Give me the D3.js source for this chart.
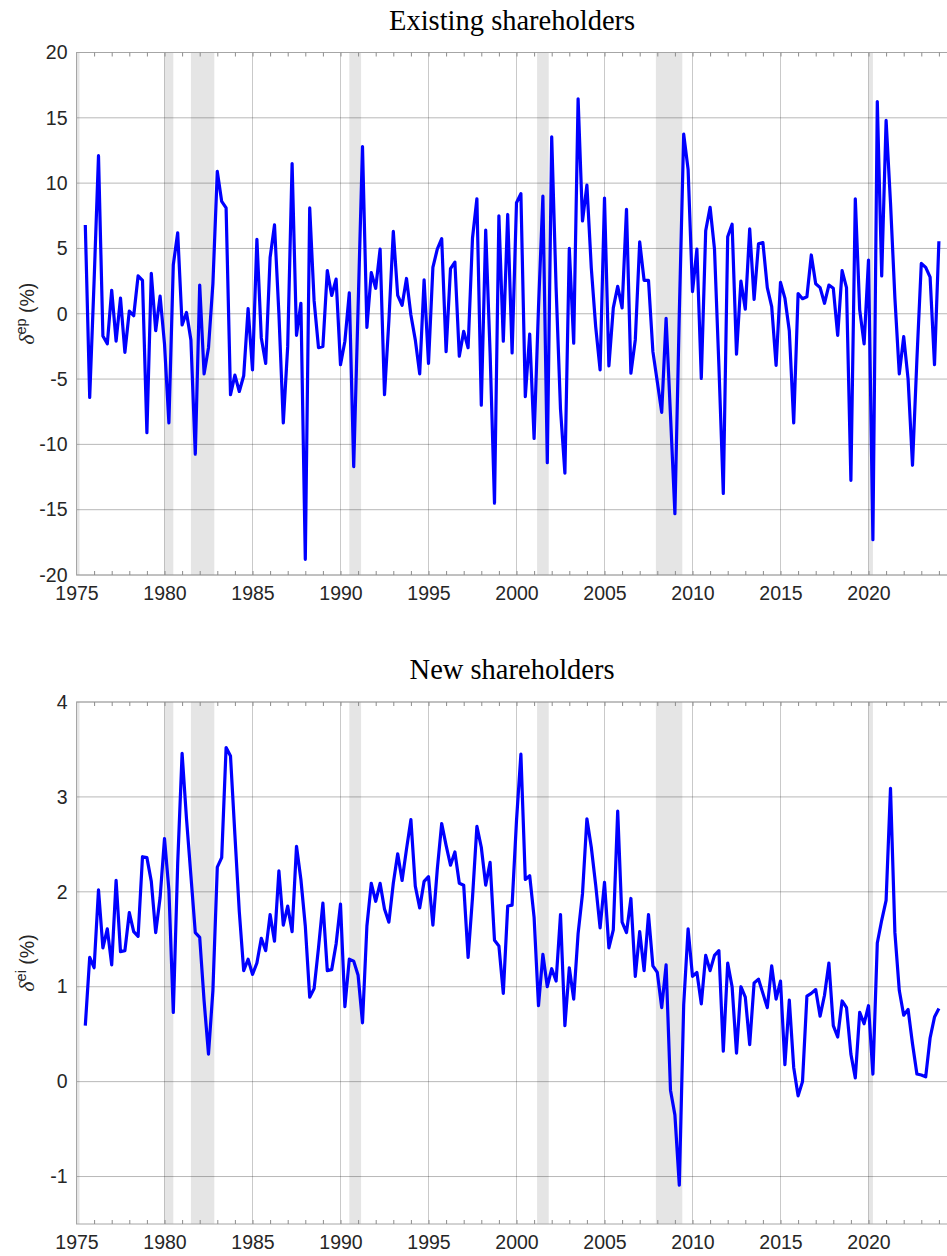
<!DOCTYPE html>
<html>
<head>
<meta charset="utf-8">
<script src="https://cdn.jsdelivr.net/npm/d3@7"></script>
<style>
  body { margin: 0; background: #fff; }
  svg { display: block; }
</style>
</head>
<body>
<svg id="chart" width="947" height="1256"></svg>
<script>
// quarterly observations, first one is 1975 Q3
const firstQuarter = 1975.5;

// delta^ep (%), existing shareholders
const existingShareholders = [
  6.8, -6.4, 2.5, 12.1, -1.7, -2.3, 1.8, -2.1, 1.2, -2.95,
  0.2, -0.15, 2.9, 2.55, -9.1, 3.1, -1.3, 1.35, -2.3, -8.35,
  3.75, 6.2, -0.85, 0.1, -2.0, -10.75, 2.2, -4.6, -2.6, 2.3,
  10.9, 8.6, 8.1, -6.2, -4.7, -5.95, -4.75, 0.4, -4.3, 5.7,
  -1.85, -3.8, 4.3, 6.8, 0.0, -8.35, -2.5, 11.5, -1.65, 0.8,
  -18.8, 8.1, 1.0, -2.6, -2.5, 3.3, 1.4, 2.65, -3.9, -2.1,
  1.6, -11.7, 0.5, 12.8, -1.05, 3.15, 1.95, 4.95, -6.2, -0.5,
  6.3, 1.4, 0.65, 2.7, -0.1, -2.0, -4.6, 2.6, -3.8, 3.55,
  4.95, 5.75, -2.9, 3.45, 3.95, -3.25, -1.35, -2.6, 5.8, 8.8,
  -7.0, 6.4, -3.0, -14.5, 7.5, -2.1, 7.6, -3.0, 8.5, 9.2,
  -6.35, -1.55, -9.55, 0.5, 9.0, -11.4, 13.55, 2.0, -7.3, -12.2,
  5.0, -2.25, 16.45, 7.1, 9.85, 3.5, -1.0, -4.3, 8.85, -4.0,
  0.45, 2.1, 0.45, 8.0, -4.55, -2.0, 5.5, 2.55, 2.55, -2.9,
  -5.2, -7.55, -0.35, -7.8, -15.3, 0.0, 13.75, 11.05, 1.7, 4.95,
  -4.95, 6.35, 8.15, 4.95, -4.0, -13.75, 5.9, 6.85, -3.1, 2.5,
  0.35, 6.5, 1.1, 5.35, 5.45, 2.0, 0.55, -3.95, 2.4, 1.2,
  -1.3, -8.35, 1.55, 1.15, 1.3, 4.5, 2.3, 2.0, 0.8, 2.2,
  1.95, -1.65, 3.3, 2.0, -12.75, 8.8, 0.3, -2.3, 4.1, -17.3,
  16.25, 2.9, 14.8, 8.5, 1.2, -4.6, -1.75, -5.0, -11.6, -3.5,
  3.85, 3.55, 2.8, -3.9, 5.55
];

// delta^ei (%), new shareholders
const newShareholders = [
  0.59, 1.31, 1.2, 2.02, 1.41, 1.61, 1.23, 2.12, 1.37, 1.38,
  1.78, 1.58, 1.53, 2.37, 2.36, 2.11, 1.57, 1.94, 2.56, 2.02,
  0.73, 2.3, 3.46, 2.77, 2.17, 1.57, 1.52, 0.85, 0.29, 0.96,
  2.26, 2.36, 3.52, 3.43, 2.6, 1.79, 1.17, 1.29, 1.13, 1.25,
  1.51, 1.38, 1.76, 1.48, 2.22, 1.65, 1.85, 1.58, 2.48, 2.13,
  1.64, 0.89, 0.98, 1.41, 1.88, 1.17, 1.18, 1.45, 1.87, 0.79,
  1.29, 1.27, 1.12, 0.62, 1.64, 2.09, 1.9, 2.09, 1.82, 1.68,
  2.09, 2.4, 2.12, 2.45, 2.76, 2.06, 1.83, 2.11, 2.16, 1.65,
  2.24, 2.72, 2.49, 2.28, 2.42, 2.09, 2.07, 1.31, 1.94, 2.69,
  2.47, 2.07, 2.31, 1.49, 1.43, 0.93, 1.85, 1.86, 2.75, 3.45,
  2.13, 2.17, 1.73, 0.8, 1.34, 1.0, 1.19, 1.06, 1.76, 0.59,
  1.2, 0.87, 1.56, 1.98, 2.77, 2.47, 2.07, 1.62, 2.1, 1.41,
  1.6, 2.85, 1.68, 1.57, 1.93, 1.11, 1.58, 1.17, 1.76, 1.22,
  1.15, 0.78, 1.23, -0.09, -0.35, -1.09, 0.81, 1.61, 1.11, 1.15,
  0.82, 1.33, 1.17, 1.33, 1.38, 0.32, 1.25, 1.0, 0.3, 1.0,
  0.89, 0.39, 1.04, 1.08, 0.93, 0.78, 1.22, 0.87, 1.06, 0.18,
  0.86, 0.15, -0.15, 0.0, 0.9, 0.93, 0.97, 0.69, 0.91, 1.25,
  0.59, 0.47, 0.85, 0.78, 0.29, 0.04, 0.73, 0.61, 0.8, 0.08,
  1.46, 1.7, 1.91, 3.09, 1.57, 0.96, 0.7, 0.76, 0.4, 0.08,
  0.07, 0.05, 0.46, 0.68, 0.77
];

// NBER recessions (start, end)
const recessions = [
  [1975.0, 1975.17], [1980.0, 1980.5], [1981.5, 1982.83], [1990.5, 1991.17],
  [2001.17, 2001.83], [2007.92, 2009.42], [2020.0, 2020.25]
];

const xTickLabels = [1975, 1980, 1985, 1990, 1995, 2000, 2005, 2010, 2015, 2020];
const yTicksExisting = [-20, -15, -10, -5, 0, 5, 10, 15, 20];
const yTicksNew = [-1, 0, 1, 2, 3, 4];

const svg = d3.select('#chart');

const x = d3.scaleLinear()
  .domain([1975, 2024.5])
  .range([76.5, 947.7]);

const yearTicks = d3.range(1976, 2025);
const date = (_, i) => firstQuarter + i * 0.25;

function drawPanel(opts) {
  const g = svg.append('g');
  const y = d3.scaleLinear()
    .domain(opts.domain)
    .range([opts.bottom, opts.top]);

  // recession shading
  g.selectAll('rect.rec')
    .data(recessions)
    .join('rect')
    .attr('x', d => x(d[0]))
    .attr('width', d => x(d[1]) - x(d[0]))
    .attr('y', opts.top)
    .attr('height', opts.bottom - opts.top)
    .attr('fill', '#e5e5e5');

  // grid
  g.append('g')
    .selectAll('line')
    .data(opts.ticks)
    .join('line')
    .attr('x1', x.range()[0]).attr('x2', x.range()[1])
    .attr('y1', d => y(d)).attr('y2', d => y(d))
    .attr('stroke', '#262626').attr('stroke-opacity', 0.33)
    .attr('stroke-width', 1);

  g.append('g')
    .selectAll('line')
    .data(xTickLabels)
    .join('line')
    .attr('x1', d => x(d)).attr('x2', d => x(d))
    .attr('y1', opts.top).attr('y2', opts.bottom)
    .attr('stroke', '#262626').attr('stroke-opacity', 0.25)
    .attr('stroke-width', 1);

  // box
  g.append('rect')
    .attr('x', x.range()[0]).attr('y', opts.top)
    .attr('width', x.range()[1] - x.range()[0])
    .attr('height', opts.bottom - opts.top)
    .attr('fill', 'none')
    .attr('stroke', '#a6a6a6');

  // yearly ticks, inward, top and bottom
  const axisB = d3.axisBottom(x).tickValues(yearTicks).tickSizeInner(-4).tickSizeOuter(0).tickFormat('');
  const axisT = d3.axisTop(x).tickValues(yearTicks).tickSizeInner(-4).tickSizeOuter(0).tickFormat('');
  [g.append('g').attr('transform', `translate(0,${opts.bottom})`).call(axisB),
   g.append('g').attr('transform', `translate(0,${opts.top})`).call(axisT)]
    .forEach(a => {
      a.select('.domain').remove();
      a.selectAll('line').attr('stroke', '#8c8c8c');
    });

  // x labels
  const xl = g.append('g')
    .attr('transform', `translate(0,${opts.bottom + 8})`)
    .call(d3.axisBottom(x).tickValues(xTickLabels).tickSize(0).tickFormat(d3.format('d')));
  xl.select('.domain').remove();
  xl.selectAll('text')
    .attr('font-family', 'Liberation Sans, Arial, sans-serif')
    .attr('font-size', 19.5)
    .attr('fill', '#262626');

  // y labels
  const yl = g.append('g')
    .attr('transform', `translate(${x.range()[0] - 6},0)`)
    .call(d3.axisLeft(y).tickValues(opts.ticks).tickSize(0).tickFormat(d3.format('d')));
  yl.select('.domain').remove();
  yl.selectAll('text')
    .attr('font-family', 'Liberation Sans, Arial, sans-serif')
    .attr('font-size', 19.5)
    .attr('fill', '#262626')
    .text(d => String(d));

  // series
  g.append('path')
    .datum(opts.values)
    .attr('fill', 'none')
    .attr('stroke', '#0000ff')
    .attr('stroke-width', 3.2)
    .attr('stroke-linejoin', 'round')
    .attr('d', d3.line().x((d, i) => x(date(d, i))).y(d => y(d)));

  // title
  g.append('text')
    .attr('x', (x.range()[0] + x.range()[1]) / 2)
    .attr('y', opts.top - 23)
    .attr('text-anchor', 'middle')
    .attr('font-family', 'Liberation Serif, Times New Roman, serif')
    .attr('font-size', 28.5)
    .attr('fill', '#000')
    .text(opts.title);

  // y axis label
  const lab = g.append('text')
    .attr('transform', `translate(34,${(opts.top + opts.bottom) / 2}) rotate(-90)`)
    .attr('text-anchor', 'middle')
    .attr('font-family', 'Liberation Sans, Arial, sans-serif')
    .attr('font-size', 19.5)
    .attr('fill', '#262626');
  lab.append('tspan')
    .attr('font-family', 'Liberation Serif, Times New Roman, serif')
    .attr('font-style', 'italic')
    .attr('font-size', 22)
    .text('δ');
  lab.append('tspan')
    .attr('dy', -8)
    .attr('font-size', 14.5)
    .text(opts.sup);
  lab.append('tspan')
    .attr('dy', 8)
    .text(' (%)');
}

drawPanel({
  top: 52.5, bottom: 575, domain: [-20, 20], ticks: yTicksExisting,
  values: existingShareholders, title: 'Existing shareholders', sup: 'ep'
});

drawPanel({
  top: 702, bottom: 1224, domain: [-1.5, 4], ticks: yTicksNew,
  values: newShareholders, title: 'New shareholders', sup: 'ei'
});
</script>
</body>
</html>
